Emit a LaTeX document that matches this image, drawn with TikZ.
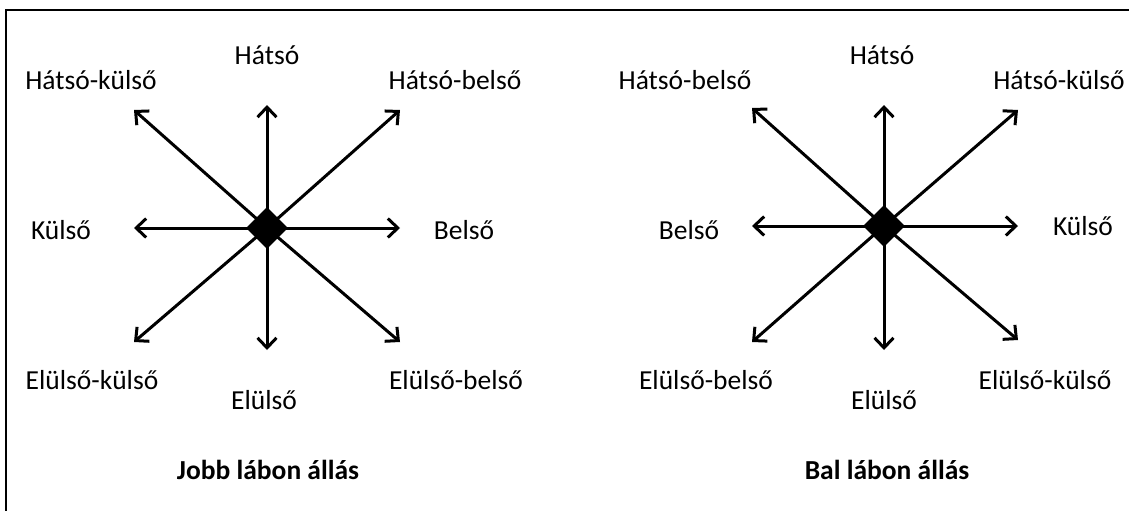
\documentclass[tikz,border=0pt]{standalone}
\usepackage{fontspec}
\setmainfont{Carlito}
\usetikzlibrary{arrows.meta,shapes.geometric}

\tikzset{
  lbl/.style={font=\fontsize{27.5}{32}\selectfont, inner sep=0pt, anchor=center},
  ttl/.style={font=\fontsize{27.5}{32}\selectfont\bfseries, inner sep=0pt, anchor=center},
  hub/.style={diamond, fill=black, draw=none, minimum width=42pt, minimum height=42pt, inner sep=0pt},
  dirarrow/.style={line width=3pt, -{Straight Barb[length=10pt,width=19pt,line width=3pt]}},
  frameline/.style={line width=2.5pt}
}

\begin{document}
\begin{tikzpicture}[x=1pt,y=-1pt]
\useasboundingbox (0,0) rectangle (1129,511);

% open frame: top and left edges only
\coordinate (fTR) at (1129,10);
\coordinate (fTL) at (6,10);
\coordinate (fBL) at (6,511);
\draw[frameline] (fTR) -- (fTL) -- (fBL);

% ---- right-foot stance ----
\coordinate (Rc) at (267,228);
\coordinate (RN) at (267,105);
\coordinate (RS) at (267,350);
\coordinate (RW) at (134,228);
\coordinate (RE) at (400,228);
\coordinate (RNW) at (134,110);
\coordinate (RNE) at (400,110);
\coordinate (RSW) at (134,342);
\coordinate (RSE) at (400,342);
\foreach \t in {RN,RS,RW,RE,RNW,RNE,RSW,RSE}
  \draw[dirarrow] (Rc) -- (\t);
\node[hub] (Rhub) at (Rc) {};

\node[lbl] (R1) at (267,55) {Hátsó};
\node[lbl] (R2) at (91,80) {Hátsó-külső};
\node[lbl] (R3) at (455,80) {Hátsó-belső};
\node[lbl] (R4) at (61,230) {Külső};
\node[lbl] (R5) at (464,230) {Belső};
\node[lbl] (R6) at (92,380) {Elülső-külső};
\node[lbl] (R7) at (264,400) {Elülső};
\node[lbl] (R8) at (456,380) {Elülső-belső};
\node[ttl] (Rt) at (268,470) {Jobb lábon állás};

% ---- left-foot stance ----
\coordinate (Lc) at (884,226);
\coordinate (LN) at (884,105);
\coordinate (LS) at (884,350);
\coordinate (LW) at (752,226);
\coordinate (LE) at (1018,226);
\coordinate (LNW) at (752,108);
\coordinate (LNE) at (1018,110);
\coordinate (LSW) at (752,342);
\coordinate (LSE) at (1018,340);
\foreach \t in {LN,LS,LW,LE,LNW,LNE,LSW,LSE}
  \draw[dirarrow] (Lc) -- (\t);
\node[hub] (Lhub) at (Lc) {};

\node[lbl] (L1) at (882,55) {Hátsó};
\node[lbl] (L2) at (685,80) {Hátsó-belső};
\node[lbl] (L3) at (1059,80) {Hátsó-külső};
\node[lbl] (L4) at (689,230) {Belső};
\node[lbl] (L5) at (1083,226) {Külső};
\node[lbl] (L6) at (706,380) {Elülső-belső};
\node[lbl] (L7) at (884,400) {Elülső};
\node[lbl] (L8) at (1045,380) {Elülső-külső};
\node[ttl] (Lt) at (887,470) {Bal lábon állás};
\end{tikzpicture}
\end{document}
